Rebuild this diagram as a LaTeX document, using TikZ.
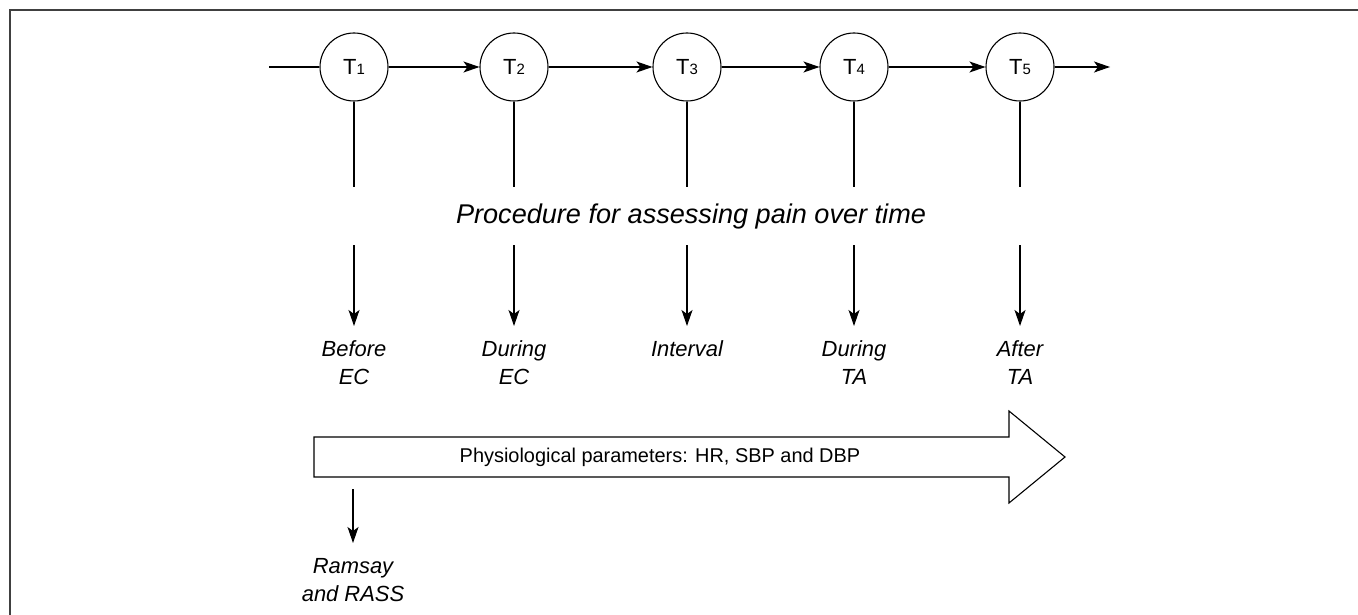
\documentclass[tikz,border=0pt]{standalone}
\usepackage{fontspec}
\setmainfont{Liberation Sans}
\usetikzlibrary{arrows.meta}
\newcommand{\tnum}[1]{{\fontsize{15}{15}\selectfont #1}}
\begin{document}
\begin{tikzpicture}[x=1bp,y=-1bp,line width=1.1bp,
  >={Stealth[length=16bp,width=11bp,inset=4bp]},
  tnode/.style={circle,draw,minimum size=68bp,inner sep=0pt,font=\fontsize{22}{22}\selectfont},
  lbl/.style={anchor=north,inner sep=0pt,align=center,font=\fontsize{22}{28}\selectfont\itshape}]
\useasboundingbox (0,0) rectangle (1358,615);
\draw[line width=1.6bp,black!75] (10,615) -- (10,10) -- (1358,10);

% time points
\node[tnode] (t1) at (354,67) {T\tnum{1}};
\node[tnode] (t2) at (514,67) {T\tnum{2}};
\node[tnode] (t3) at (687,67) {T\tnum{3}};
\node[tnode] (t4) at (854,67) {T\tnum{4}};
\node[tnode] (t5) at (1020,67) {T\tnum{5}};
\coordinate (start) at (269,67);
\coordinate (end) at (1110,67);
\draw (start) -- (t1);
\draw[->] (t1) -- (t2);
\draw[->] (t2) -- (t3);
\draw[->] (t3) -- (t4);
\draw[->] (t4) -- (t5);
\draw[->] (t5) -- (end);

% vertical lines down from circles
\foreach \i/\x in {1/354,2/514,3/687,4/854,5/1020}{
  \coordinate (v\i) at (\x,187);
  \coordinate (a\i) at (\x,245);
  \draw (t\i) -- (v\i);
}

\node[font=\fontsize{27.2}{27.2}\selectfont\itshape] (proc) at (691,216) {Procedure for assessing pain over time};

% labels
\node[lbl] (l1) at (354,340) {Before\\EC};
\node[lbl] (l2) at (514,340) {During\\EC};
\node[lbl] (l3) at (687,340) {Interval};
\node[lbl] (l4) at (854,340) {During\\TA};
\node[lbl] (l5) at (1020,340) {After\\TA};
\foreach \i in {1,...,5}{
  \draw[->,shorten >=14bp] (a\i) -- (l\i.north);
}

% big arrow
\draw (314,437) -- (1009,437) -- (1009,411) -- (1065,457) -- (1009,503) -- (1009,477) -- (314,477) -- cycle;
\node[font=\fontsize{20}{20}\selectfont] (phys) at (660,457) {Physiological parameters: HR, SBP and DBP};

% Ramsay
\coordinate (r0) at (353,489);
\node[lbl] (ram) at (353,558) {Ramsay\\and RASS};
\draw[->,shorten >=15bp] (r0) -- (ram.north);
\end{tikzpicture}
\end{document}
